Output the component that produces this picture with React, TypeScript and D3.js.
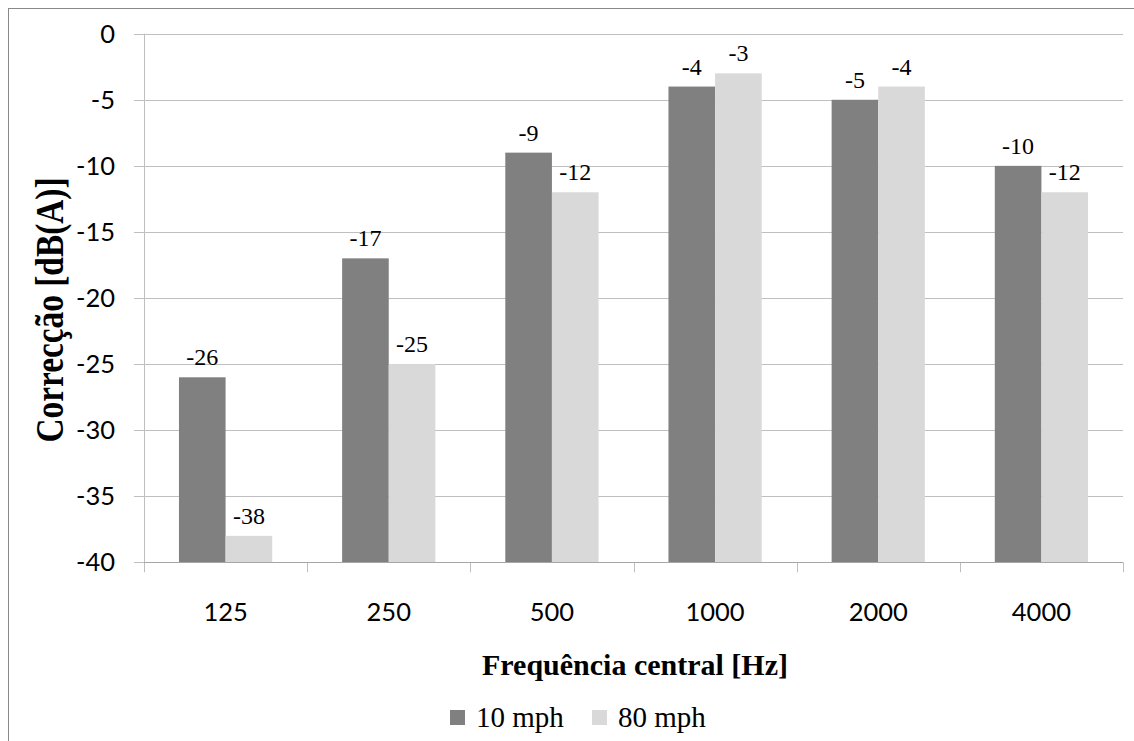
import React from "react";
import * as d3 from "d3";

const categories = ["125", "250", "500", "1000", "2000", "4000"];
const series10 = [-26, -17, -9, -4, -5, -10];
const series80 = [-38, -25, -12, -3, -4, -12];
const seriesNames = ["10 mph", "80 mph"];
const seriesColors = ["#808080", "#d9d9d9"];
const yTicks = [0, -5, -10, -15, -20, -25, -30, -35, -40];

export default function App() {
  const W = 1134, H = 741;
  const left = 144, right = 1123, top = 33.7, bottom = 562.3;
  const x = d3.scaleBand<string>().domain(categories).range([left, right]).paddingInner(0).paddingOuter(0);
  const y = d3.scaleLinear().domain([-40, 0]).range([bottom, top]);
  const bw = x.bandwidth() / 3.5;
  const gap = x.bandwidth() * 0.75 / 3.5;
  const data = [series10, series80];
  const sans = "Lato, 'Open Sans', sans-serif";
  const serif = "'Liberation Serif', 'Times New Roman', serif";
  return (
    <svg width={W} height={H} style={{ position: "absolute", left: 0, top: 0, display: "block", background: "#fff" }}>
      <rect x={8.5} y={8.5} width={1140} height={760} fill="#fff" stroke="#898989" strokeWidth={1} />
      {yTicks.map((t) => (
        <g key={t}>
          <line x1={left - 10} x2={right} y1={Math.round(y(t)) + 0.5} y2={Math.round(y(t)) + 0.5} stroke="#bfbfbf" strokeWidth={1} />
          <text x={115} y={y(t)} dy="0.36em" textAnchor="end" fontFamily={sans} fontSize={25.5} fill="#000">{t}</text>
        </g>
      ))}
      <line x1={left + 0.5} x2={left + 0.5} y1={top} y2={bottom + 10} stroke="#bfbfbf" />
      {categories.map((c) => (
        <line key={"t" + c} x1={Math.round(x(c)! + x.bandwidth()) + 0.5} x2={Math.round(x(c)! + x.bandwidth()) + 0.5} y1={bottom} y2={bottom + 10} stroke="#bfbfbf" />
      ))}
      {data.map((s, si) =>
        s.map((v, i) => {
          const bx = x(categories[i])! + gap + si * bw;
          return (
            <g key={si + "-" + i}>
              <rect x={bx} y={y(v)} width={bw} height={y(-40) - y(v)} fill={seriesColors[si]} />
              <text x={bx + bw / 2} y={y(v) - 12} textAnchor="middle" fontFamily={serif} fontSize={24} fill="#000">{v}</text>
            </g>
          );
        })
      )}
      <line x1={left} x2={right} y1={Math.round(bottom) + 0.5} y2={Math.round(bottom) + 0.5} stroke="#a6a6a6" />
      {categories.map((c) => (
        <text key={"l" + c} x={x(c)! + x.bandwidth() / 2} y={621} textAnchor="middle" fontFamily={sans} fontSize={25.5} fill="#000">{c}</text>
      ))}
      <text x={635} y={675} textAnchor="middle" fontFamily={serif} fontWeight="bold" fontSize={30} fill="#000">Frequência central [Hz]</text>
      <text transform="translate(63,310) rotate(-90)" textAnchor="middle" fontFamily={serif} fontWeight="bold" fontSize={39} textLength={265} lengthAdjust="spacingAndGlyphs" fill="#000">Correcção [dB(A)]</text>
      {seriesNames.map((n, i) => {
        const lx = [450, 592][i];
        return (
          <g key={n}>
            <rect x={lx} y={710} width={15} height={15} fill={seriesColors[i]} />
            <text x={lx + 26} y={727} fontFamily={serif} fontSize={29} fill="#000">{n}</text>
          </g>
        );
      })}
    </svg>
  );
}
